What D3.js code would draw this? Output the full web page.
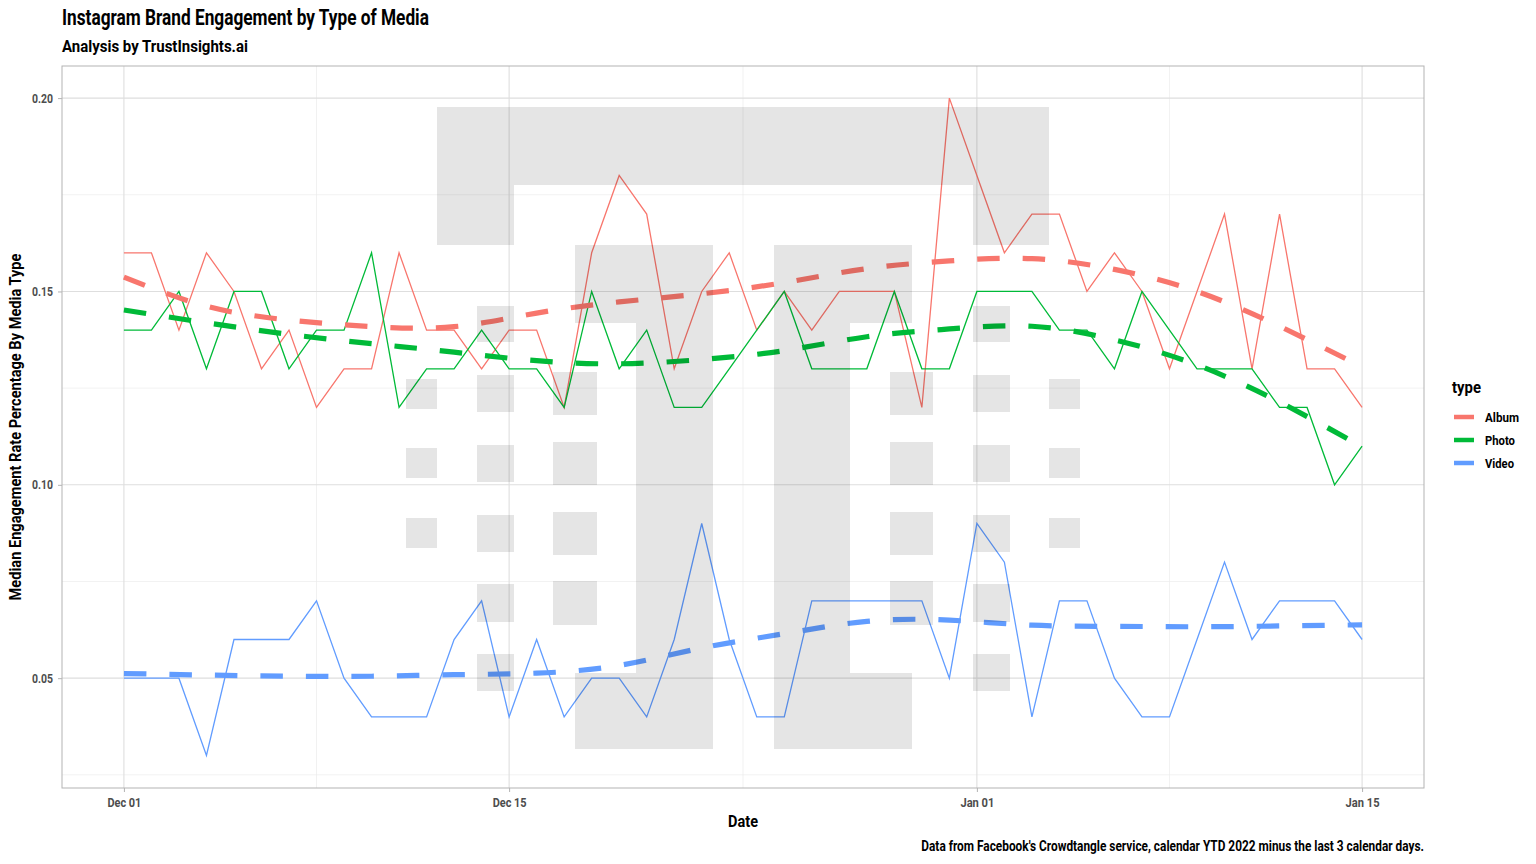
<!DOCTYPE html>
<html><head><meta charset="utf-8">
<script src="https://cdn.jsdelivr.net/npm/d3@7"></script>
<style>
html,body{margin:0;padding:0;background:#fff;}
text{font-family:"Roboto","Liberation Sans","DejaVu Sans",sans-serif;}
</style></head>
<body><svg id="chart" width="1536" height="864"></svg>
<script>
// ---------- DATA ----------
const startDate = "2021-12-01";
const album = [0.16,0.16,0.14,0.16,0.15,0.13,0.14,0.12,0.13,0.13,0.16,0.14,0.14,0.13,0.14,0.14,0.12,0.16,0.18,0.17,0.13,0.15,0.16,0.14,0.15,0.14,0.15,0.15,0.15,0.12,0.20,0.18,0.16,0.17,0.17,0.15,0.16,0.15,0.13,0.15,0.17,0.13,0.17,0.13,0.13,0.12];
const photo = [0.14,0.14,0.15,0.13,0.15,0.15,0.13,0.14,0.14,0.16,0.12,0.13,0.13,0.14,0.13,0.13,0.12,0.15,0.13,0.14,0.12,0.12,0.13,0.14,0.15,0.13,0.13,0.13,0.15,0.13,0.13,0.15,0.15,0.15,0.14,0.14,0.13,0.15,0.14,0.13,0.13,0.13,0.12,0.12,0.10,0.11];
const video = [0.05,0.05,0.05,0.03,0.06,0.06,0.06,0.07,0.05,0.04,0.04,0.04,0.06,0.07,0.04,0.06,0.04,0.05,0.05,0.04,0.06,0.09,0.06,0.04,0.04,0.07,0.07,0.07,0.07,0.07,0.05,0.09,0.08,0.04,0.07,0.07,0.05,0.04,0.04,0.06,0.08,0.06,0.07,0.07,0.07,0.06];
// smoothed trend at day offsets
const smoothDays  = [0,3,6,9,12,15,18,21,24,27,30,33,36,39,42,45];
const albumTrend  = [0.1537,0.1462,0.1426,0.1409,0.1409,0.1444,0.1473,0.1494,0.1523,0.1559,0.1579,0.1585,0.1557,0.1500,0.1410,0.1305];
const photoTrend  = [0.1452,0.1419,0.1389,0.1365,0.1343,0.1321,0.1313,0.1324,0.1347,0.1383,0.1403,0.1410,0.1375,0.1310,0.1214,0.1098];
const videoTrend  = [0.0512,0.0508,0.0505,0.0505,0.0509,0.0513,0.0533,0.0578,0.0615,0.0647,0.0650,0.0637,0.0634,0.0633,0.0635,0.0638];
const typeNames = ["Album","Photo","Video"];
const typeColors = ["#F8766D","#00BA38","#619CFF"];
const xTickDates = ["2021-12-01","2021-12-15","2022-01-01","2022-01-15"];
const xMinorDates = ["2021-12-08","2021-12-23T12:00","2022-01-08"];
const yTicks = [0.05,0.10,0.15,0.20];
const yMinor = [0.025,0.075,0.125,0.175];
const titleText = "Instagram Brand Engagement by Type of Media";
const subtitleText = "Analysis by TrustInsights.ai";
const captionText = "Data from Facebook's Crowdtangle service, calendar YTD 2022 minus the last 3 calendar days.";
const xTitle = "Date", yTitle = "Median Engagement Rate Percentage By Media Type", legendTitle = "type";

// ---------- LAYOUT ----------
const svg = d3.select("#chart");
const P = {l:62, r:1424, t:66, b:788};
const parse = s => new Date(s + (s.length===10 ? "T00:00" : ""));
const day0 = parse(startDate);
const dayToDate = d => new Date(day0.getTime() + d*86400000);
const x = d3.scaleTime().domain([dayToDate(-2.25), dayToDate(47.25)]).range([P.l, P.r]);
const y = d3.scaleLinear().domain([0.0216, 0.2083]).range([P.b, P.t]);

// horizontally condense a text node to a target width (keeps anchor point)
function fit(node, target){
  const w = node.getComputedTextLength();
  if(!w) return;
  const s = target / w;
  const ox = +node.getAttribute("x") || 0;
  const oy = +node.getAttribute("y") || 0;
  node.setAttribute("x", 0); node.setAttribute("y", 0);
  const prev = node.getAttribute("transform") || "";
  node.setAttribute("transform", prev + ` translate(${ox},${oy}) scale(${s},1)`);
}

// grid
const grid = svg.append("g");
grid.selectAll(".ym").data(yMinor).join("line").attr("x1",P.l).attr("x2",P.r)
  .attr("y1",d=>y(d)).attr("y2",d=>y(d)).attr("stroke","#ebebeb").attr("stroke-width",0.7);
grid.selectAll(".xm").data(xMinorDates).join("line").attr("y1",P.t).attr("y2",P.b)
  .attr("x1",d=>x(parse(d))).attr("x2",d=>x(parse(d))).attr("stroke","#ebebeb").attr("stroke-width",0.7);
grid.selectAll(".yM").data(yTicks).join("line").attr("x1",P.l).attr("x2",P.r)
  .attr("y1",d=>y(d)).attr("y2",d=>y(d)).attr("stroke","#dedede").attr("stroke-width",1.1);
grid.selectAll(".xM").data(xTickDates).join("line").attr("y1",P.t).attr("y2",P.b)
  .attr("x1",d=>x(parse(d))).attr("x2",d=>x(parse(d))).attr("stroke","#dedede").attr("stroke-width",1.1);

// series
const series = [album, photo, video];
const trends = [albumTrend, photoTrend, videoTrend];
const line = d3.line().x((d,i)=>x(dayToDate(i))).y(d=>y(d));
const sline = d3.line().x(d=>x(dayToDate(d[0]))).y(d=>y(d[1])).curve(d3.curveNatural);
series.forEach((s,k)=>{
  svg.append("path").datum(s).attr("d",line).attr("fill","none")
    .attr("stroke",typeColors[k]).attr("stroke-width",1.3).attr("stroke-linejoin","miter");
});
trends.forEach((t,k)=>{
  svg.append("path").datum(smoothDays.map((d,i)=>[d,t[i]])).attr("d",sline).attr("fill","none")
    .attr("stroke",typeColors[k]).attr("stroke-width",5.2).attr("stroke-dasharray","22.5,23");
});

// watermark (logo) overlay
const wm = svg.append("g").attr("fill","#000").attr("fill-opacity",0.1);
const wmRects = [
  [437,107,1049,185],[437,185,514,245],[973,185,1049,245],
  [575,245,713,323],[636,323,713,673],[575,673,713,749],
  [774,245,912,323],[774,323,850,673],[774,673,912,749],
  [406,379,437,409],[406,448,437,478],[406,518,437,548],
  [477,306,514,342],[477,375,514,412],[477,445,514,482],[477,515,514,552],[477,584,514,622],[477,654,514,691],
  [553,372,597,415],[553,442,597,485],[553,512,597,555],[553,581,597,625],
  [890,372,933,415],[890,442,933,485],[890,512,933,555],[890,581,933,625],
  [973,306,1010,342],[973,375,1010,412],[973,445,1010,482],[973,515,1010,552],[973,584,1010,622],[973,654,1010,691],
  [1049,379,1080,409],[1049,448,1080,478],[1049,518,1080,548]
];
wm.selectAll("rect").data(wmRects).join("rect")
  .attr("x",d=>d[0]).attr("y",d=>d[1]).attr("width",d=>d[2]-d[0]).attr("height",d=>d[3]-d[1]);

// panel border
svg.append("rect").attr("x",P.l).attr("y",P.t).attr("width",P.r-P.l).attr("height",P.b-P.t)
  .attr("fill","none").attr("stroke","#b3b3b3").attr("stroke-width",1);

// axes
const xAxis = d3.axisBottom(x).tickValues(xTickDates.map(parse)).tickFormat(d3.timeFormat("%b %d")).tickSize(4).tickPadding(6);
const gx = svg.append("g").attr("transform",`translate(0,${P.b})`).call(xAxis);
gx.select(".domain").remove();
gx.selectAll(".tick line").attr("stroke","#b3b3b3");
gx.selectAll(".tick text").attr("fill","#4d4d4d").attr("font-size",13).attr("font-weight","bold")
  .attr("font-family","Roboto").each(function(){ fit(this, 34); });
const yAxis = d3.axisLeft(y).tickValues(yTicks).tickFormat(d3.format(".2f")).tickSize(4).tickPadding(5);
const gy = svg.append("g").attr("transform",`translate(${P.l},0)`).call(yAxis);
gy.select(".domain").remove();
gy.selectAll(".tick line").attr("stroke","#b3b3b3");
gy.selectAll(".tick text").attr("fill","#4d4d4d").attr("font-size",13).attr("font-weight","bold")
  .attr("font-family","Roboto").each(function(){ fit(this, 21); });

// titles
const addText = (xx, yy, size, anchor, str, width) => {
  const t = svg.append("text").attr("x",xx).attr("y",yy).attr("font-size",size).attr("font-weight","bold")
    .attr("text-anchor",anchor).text(str);
  fit(t.node(), width);
  return t;
};
addText(62, 25, 22, "start", titleText, 367);
addText(62, 51.5, 17, "start", subtitleText, 186);
addText(743, 827, 17, "middle", xTitle, 30);
addText(1424, 851, 14, "end", captionText, 503);
const yt = svg.append("text").attr("transform","translate(21,427) rotate(-90)").attr("text-anchor","middle")
  .attr("font-size",16).attr("font-weight","bold").text(yTitle);
fit(yt.node(), 347);

// legend
addText(1452, 393, 17, "start", legendTitle, 29);
const labelW = [34, 30, 29];
typeNames.forEach((n,k)=>{
  const yy = 417 + k*23;
  svg.append("line").attr("x1",1454).attr("x2",1474).attr("y1",yy).attr("y2",yy)
    .attr("stroke",typeColors[k]).attr("stroke-width",4.5);
  addText(1485, yy+4.5, 13, "start", n, labelW[k]);
});
</script></body></html>
